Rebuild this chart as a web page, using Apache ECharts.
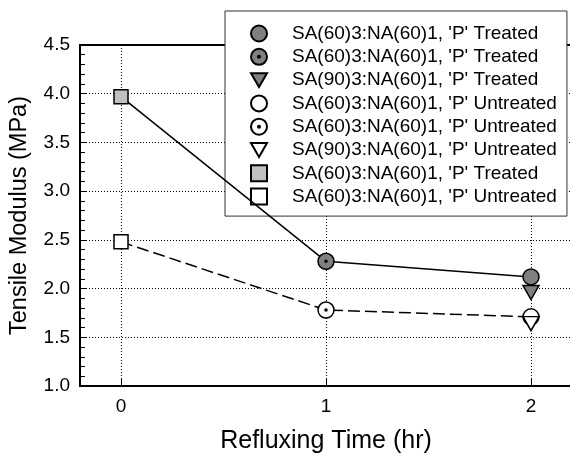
<!DOCTYPE html>
<html>
<head>
<meta charset="utf-8">
<script src="https://cdn.jsdelivr.net/npm/echarts@6/dist/echarts.min.js"></script>
<style>
  html, body { margin: 0; padding: 0; background: #fff; overflow: hidden; }
  #chart { width: 570px; height: 458px; }
</style>
</head>
<body>
<div id="chart"></div>
<script>
// ---- data ----
const xTicks = [0, 1, 2];
const yTicks = [1.0, 1.5, 2.0, 2.5, 3.0, 3.5, 4.0, 4.5];
const seriesNames = [
  "SA(60)3:NA(60)1, 'P' Treated",
  "SA(60)3:NA(60)1, 'P' Treated",
  "SA(90)3:NA(60)1, 'P' Treated",
  "SA(60)3:NA(60)1, 'P' Untreated",
  "SA(60)3:NA(60)1, 'P' Untreated",
  "SA(90)3:NA(60)1, 'P' Untreated",
  "SA(60)3:NA(60)1, 'P' Treated",
  "SA(60)3:NA(60)1, 'P' Untreated"
];
const treatedCircle = [[2, 2.12]];
const treatedDotCircle = [[1, 2.28]];
const treatedTriangle = [[2, 1.96]];
const untreatedCircle = [[2, 1.71]];
const untreatedDotCircle = [[1, 1.78]];
const untreatedTriangle = [[2, 1.64]];
const treatedSquare = [[0, 3.97]];
const untreatedSquare = [[0, 2.48]];
const xTitle = 'Refluxing Time (hr)';
const yTitle = 'Tensile Modulus (MPa)';

// lines connect the square, dotted circle and circle of each group
const treatedLine = [treatedSquare[0], treatedDotCircle[0], treatedCircle[0]];
const untreatedLine = [untreatedSquare[0], untreatedDotCircle[0], untreatedCircle[0]];

const FONT = '"Liberation Sans", Arial, sans-serif';
const DOT_CIRCLE = 'path://M0,10A10,10,0,1,1,20,10A10,10,0,1,1,0,10ZM8.7,10A1.3,1.3,0,1,1,11.3,10A1.3,1.3,0,1,1,8.7,10Z';
const DOWN_TRI = 'path://M0,0L20,0L10,17.3Z';
const GRAY = '#808080';
const LIGHT = '#c0c0c0';

const pointSpecs = [
  { data: treatedCircle, symbol: 'circle', size: 16, fill: GRAY },
  { data: treatedDotCircle, symbol: DOT_CIRCLE, size: 16, fill: GRAY },
  { data: treatedTriangle, symbol: DOWN_TRI, size: [16, 14], fill: GRAY },
  { data: untreatedCircle, symbol: 'circle', size: 16, fill: '#fff' },
  { data: untreatedDotCircle, symbol: DOT_CIRCLE, size: 16, fill: '#fff' },
  { data: untreatedTriangle, symbol: DOWN_TRI, size: [16, 14], fill: '#fff' },
  { data: treatedSquare, symbol: 'rect', size: 14, fill: LIGHT },
  { data: untreatedSquare, symbol: 'rect', size: 14, fill: '#fff' }
];

const legendKeys = seriesNames.map((n, i) => (i + 1) + '|' + n);

const series = [
  {
    type: 'line', data: treatedLine, symbol: 'none', z: 5, silent: true,
    lineStyle: { color: '#000', width: 1.5, type: 'solid' }
  },
  {
    type: 'line', data: untreatedLine, symbol: 'none', z: 5, silent: true,
    lineStyle: { color: '#000', width: 1.5, type: [12, 5] }
  }
].concat(pointSpecs.map((p, i) => ({
  type: 'scatter',
  name: legendKeys[i],
  data: p.data,
  symbol: p.symbol,
  symbolSize: p.size,
  z: 6,
  itemStyle: { color: p.fill, borderColor: '#000', borderWidth: 1.5, opacity: 1 }
})));

const chart = echarts.init(document.getElementById('chart'), null, { renderer: 'canvas' });
chart.setOption({
  animation: false,
  backgroundColor: '#fff',
  textStyle: { fontFamily: FONT },
  grid: {
    left: 80, top: 45, width: 492, height: 341,
    outerBoundsMode: 'none',
    containLabel: false,
    show: true, borderColor: '#000', borderWidth: 2, backgroundColor: 'transparent'
  },
  legend: {
    data: legendKeys,
    orient: 'vertical',
    left: 225, top: 11,
    padding: [13, 10, 10, 25],
    itemWidth: 16, itemHeight: 16,
    itemGap: 4.3,
    backgroundColor: '#fff',
    borderColor: '#333', borderWidth: 1,
    z: 4,
    formatter: name => name.split('|')[1],
    textStyle: { fontFamily: FONT, fontSize: 19, color: '#000', padding: [0, 0, 0, 20] }
  },
  xAxis: {
    type: 'value',
    min: -0.2, max: 2.2,
    name: xTitle,
    nameLocation: 'middle',
    nameGap: 43,
    nameTextStyle: { fontFamily: FONT, fontSize: 25, color: '#000' },
    axisLine: { show: true, onZero: false, lineStyle: { color: '#000', width: 2 } },
    axisTick: { show: true, inside: true, length: 7, customValues: xTicks, lineStyle: { color: '#000', width: 1 } },
    axisLabel: { customValues: xTicks, margin: 11, fontFamily: FONT, fontSize: 19, color: '#000', formatter: v => String(v) },
    splitLine: { show: true, lineStyle: { color: '#000', width: 1, type: [1, 2] } }
  },
  yAxis: {
    type: 'value',
    min: 1.0, max: 4.5, interval: 0.5,
    name: yTitle,
    nameLocation: 'middle',
    nameGap: 48,
    nameTextStyle: { fontFamily: FONT, fontSize: 23.5, color: '#000' },
    axisLine: { show: true, onZero: false, lineStyle: { color: '#000', width: 2 } },
    axisTick: { show: true, inside: true, length: 7, lineStyle: { color: '#000', width: 1 } },
    minorTick: { show: true, splitNumber: 5, length: 5, lineStyle: { color: '#000', width: 1 } },
    axisLabel: { margin: 10, fontFamily: FONT, fontSize: 19, color: '#000', formatter: v => v.toFixed(1) },
    splitLine: { show: true, lineStyle: { color: '#000', width: 1, type: [1, 2] } }
  },
  series: series
});
</script>
</body>
</html>
